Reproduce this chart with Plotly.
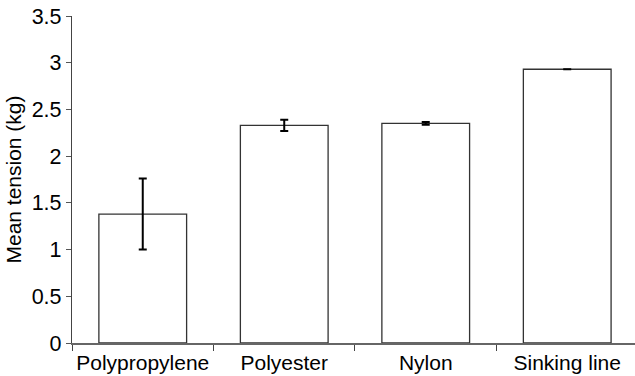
import plotly.graph_objects as go

# Mean line tension by line material, with standard-error bars
materials = ["Polypropylene", "Polyester", "Nylon", "Sinking line"]
mean_tension = [1.38, 2.33, 2.35, 2.93]
tension_err = [0.38, 0.06, 0.015, None]

fig = go.Figure(
    go.Bar(
        x=materials,
        y=mean_tension,
        width=0.62,
        marker=dict(color="white", line=dict(color="#333333", width=1.3)),
        error_y=dict(
            type="data",
            array=tension_err,
            visible=True,
            color="black",
            thickness=2,
            width=4,
        ),
        showlegend=False,
    )
)

font_family = "Liberation Sans, Arial, sans-serif"

fig.update_layout(
    width=635,
    height=376,
    margin=dict(l=72, r=0, t=16, b=33),
    paper_bgcolor="white",
    plot_bgcolor="white",
    font=dict(family=font_family, color="black", size=21),
)

fig.update_xaxes(
    range=[-0.5, 3.479],
    showline=True,
    linecolor="#666666",
    linewidth=2,
    ticks="outside",
    tickson="boundaries",
    ticklen=6,
    tickwidth=1.3,
    tickcolor="#444444",
    showgrid=False,
    tickangle=0,
    automargin=False,
    tickfont=dict(size=21, family=font_family, color="black"),
)

fig.update_yaxes(
    range=[0, 3.5],
    dtick=0.5,
    showline=True,
    linecolor="#444444",
    linewidth=1.3,
    ticks="outside",
    ticklen=5,
    tickwidth=1.3,
    tickcolor="#555555",
    showgrid=False,
    zeroline=False,
    automargin=False,
    tickfont=dict(size=21.5, family=font_family, color="black"),
    title=dict(text="Mean tension (kg)", font=dict(size=21, family=font_family), standoff=4),
)

fig.write_html("out.html")
